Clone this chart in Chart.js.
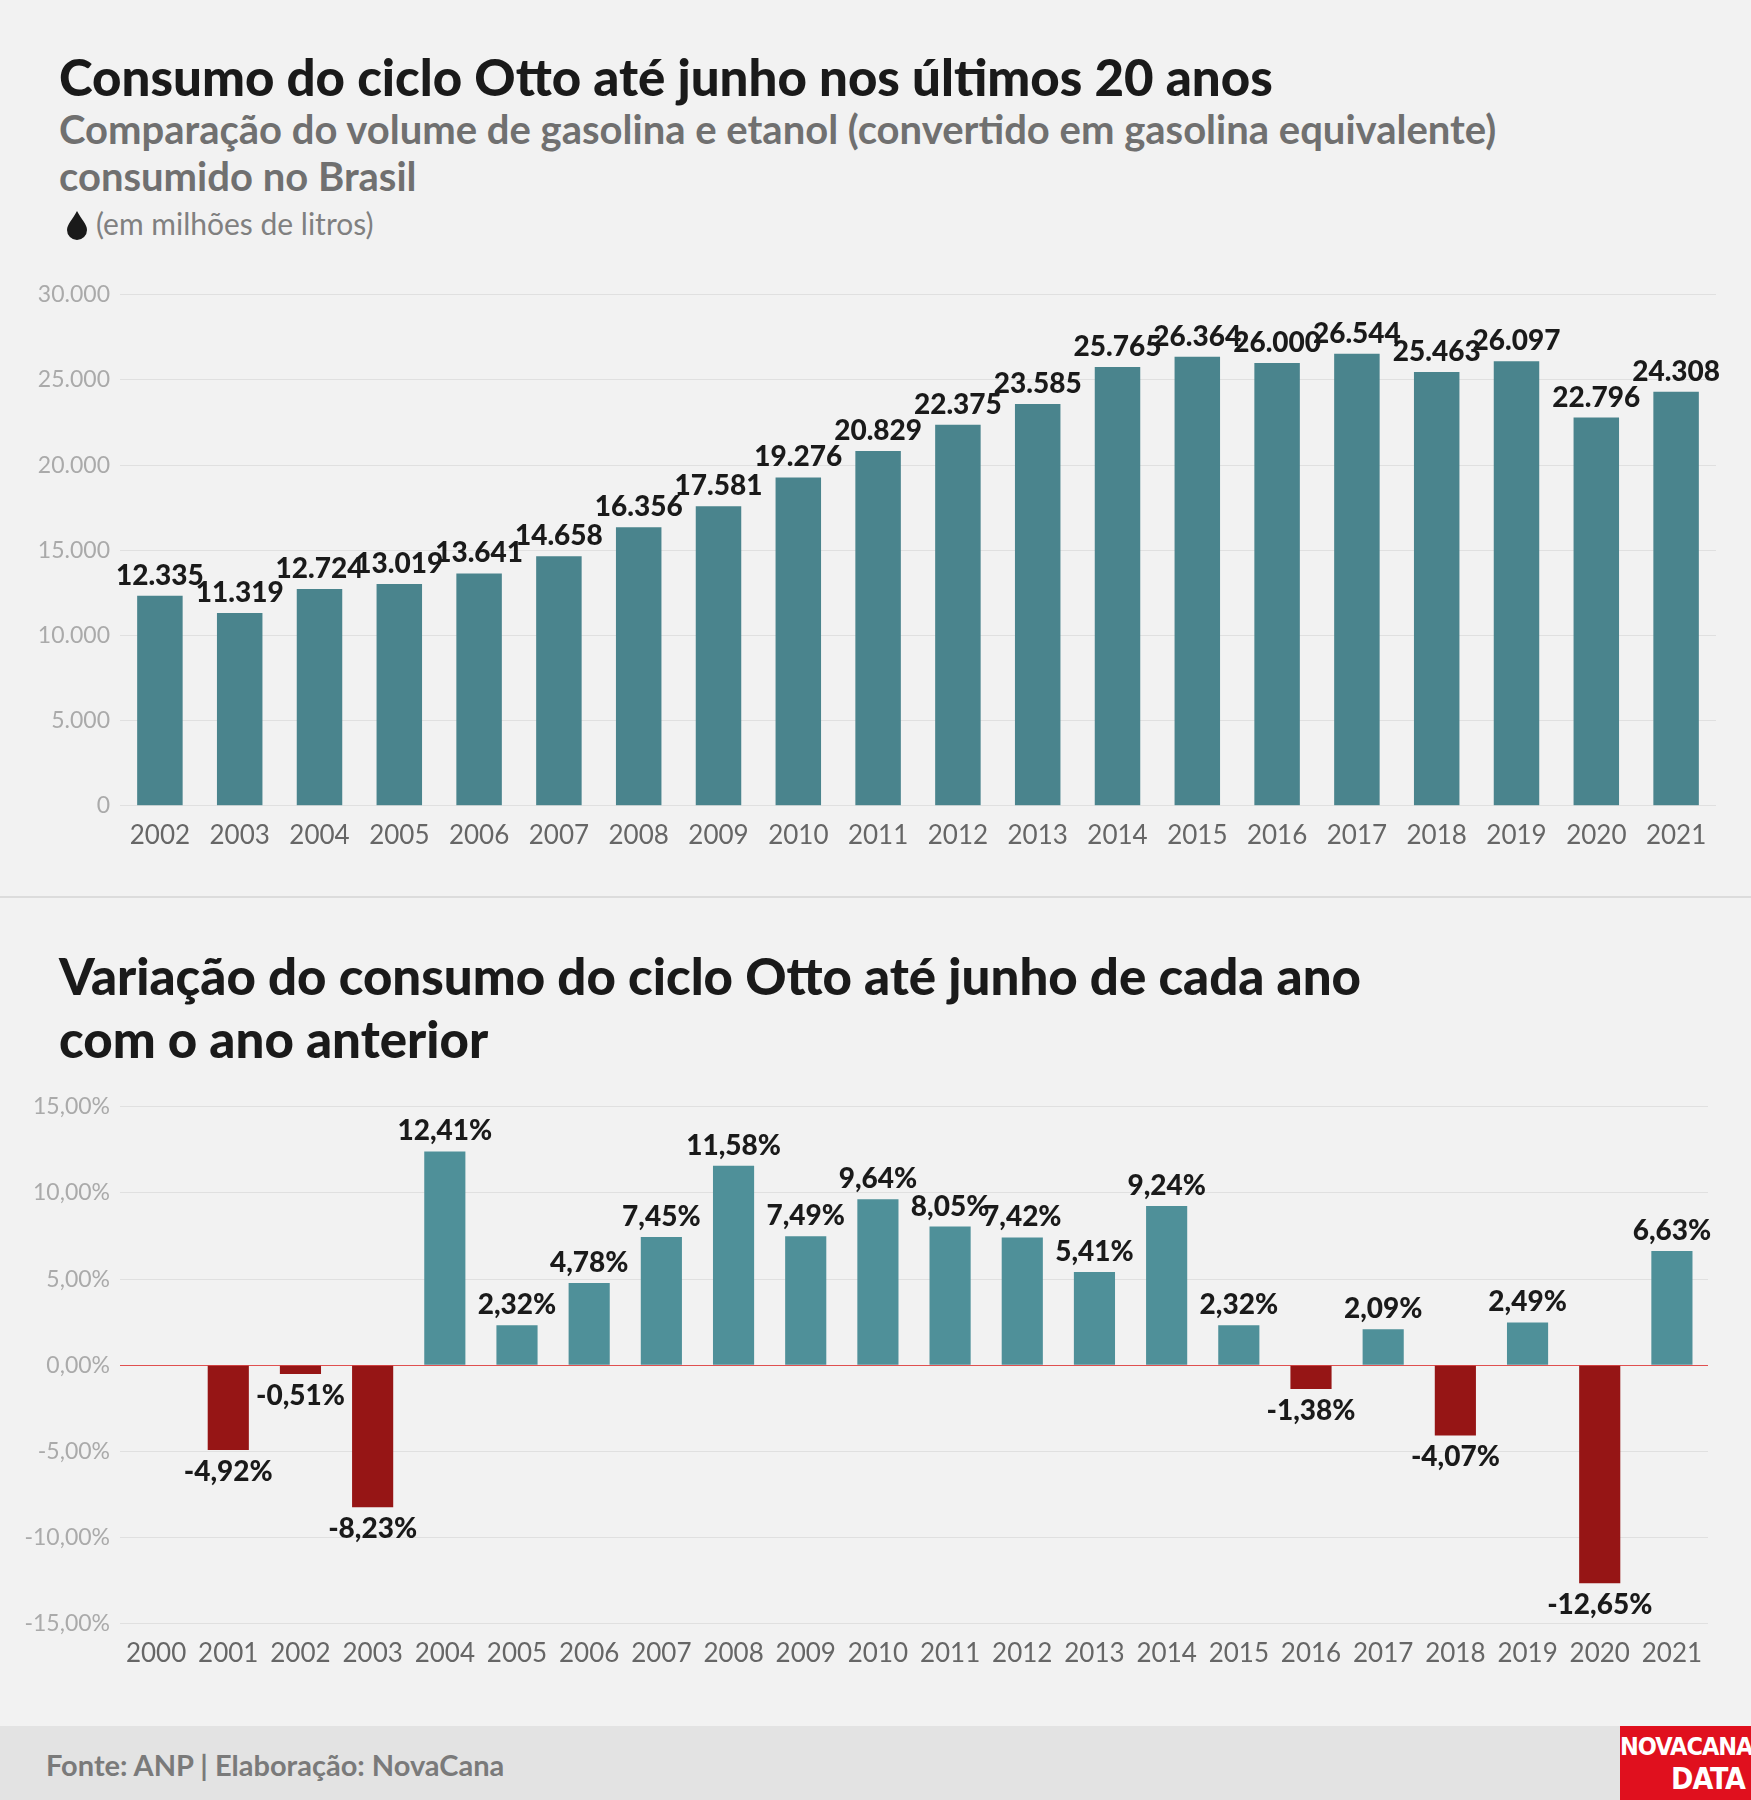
<!DOCTYPE html>
<html><head><meta charset="utf-8">
<script src="https://cdn.jsdelivr.net/npm/chart.js@4"></script>
<style>
body{margin:0;background:#f2f2f2;font-family:Lato,sans-serif;}
#page{position:relative;width:1751px;height:1800px;overflow:hidden;background:#f2f2f2}
.t{position:absolute;left:59px;font-weight:900;color:#1a1a1a;white-space:nowrap}
.box{position:absolute}
</style></head><body>
<div id="page">
  <div class="t" style="top:46px;font-size:51px">Consumo do ciclo Otto até junho nos últimos 20 anos</div>
  <div class="t" style="top:106px;font-size:40px;font-weight:700;color:#707070;line-height:47px">Comparação do volume de gasolina e etanol (convertido em gasolina equivalente)<br>consumido no Brasil</div>
  <div class="t" style="left:66px;top:205px;font-size:30px;font-weight:400;color:#808080">
    <svg width="22" height="30" viewBox="0 0 22 30" style="vertical-align:-5px;margin-right:8px"><path d="M11 1 C15 9 21 14 21 20 A10 10 0 0 1 1 20 C1 14 7 9 11 1Z" fill="#1a1a1a"/></svg>(em milhões de litros)</div>
  <div class="box" style="left:0;top:271px;width:1742px;height:586px"><canvas id="c1"></canvas></div>
  <div style="position:absolute;left:0;top:896px;width:1751px;height:2px;background:#dcdcdc"></div>
  <div class="t" style="top:944px;font-size:51px;line-height:63px">Variação do consumo do ciclo Otto até junho de cada ano<br>com o ano anterior</div>
  <div class="box" style="left:0;top:1083px;width:1734px;height:592px"><canvas id="c2"></canvas></div>
  <div style="position:absolute;left:0;top:1726px;width:1751px;height:74px;background:#e3e3e3"></div>
  <div class="t" style="left:46px;top:1747px;font-size:29px;font-weight:700;color:#7a7a7a">Fonte: ANP | Elaboração: NovaCana</div>
  <div style="position:absolute;left:1620px;top:1726px;width:131px;height:74px;background:#e0101e;color:#fff;font-weight:900;font-family:'Liberation Sans Narrow','DejaVu Sans Condensed',sans-serif;text-align:right;line-height:32px;font-size:25px;padding:5px 6px 0 0;box-sizing:border-box;letter-spacing:-1px">NOVACANA<br><span style="font-size:30px">DATA</span></div>
</div>
<script>
const years1 = ['2002','2003','2004','2005','2006','2007','2008','2009','2010','2011','2012','2013','2014','2015','2016','2017','2018','2019','2020','2021'];
const consumo = [12335,11319,12724,13019,13641,14658,16356,17581,19276,20829,22375,23585,25765,26364,26000,26544,25463,26097,22796,24308];
const years2 = ['2000','2001','2002','2003','2004','2005','2006','2007','2008','2009','2010','2011','2012','2013','2014','2015','2016','2017','2018','2019','2020','2021'];
const variacao = [null,-4.92,-0.51,-8.23,12.41,2.32,4.78,7.45,11.58,7.49,9.64,8.05,7.42,5.41,9.24,2.32,-1.38,2.09,-4.07,2.49,-12.65,6.63];

const fmtInt = v => v.toLocaleString('pt-BR');
const fmtPct = v => v.toFixed(2).replace('.', ',') + '%';

// rótulos em cima/baixo das barras
const barLabels = {
  id:'barLabels',
  afterDatasetsDraw(chart, args, opts){
    const ctx = chart.ctx;
    const ds = chart.data.datasets[0];
    chart.getDatasetMeta(0).data.forEach((bar,i)=>{
      const v = ds.data[i];
      if(v === null) return;
      ctx.save();
      ctx.font = '900 28px Lato';
      ctx.fillStyle = '#1a1a1a';
      ctx.textAlign = 'center';
      if(v >= 0){ ctx.textBaseline='bottom'; ctx.fillText(opts.fmt(v), bar.x, bar.y-6); }
      else { ctx.textBaseline='top'; ctx.fillText(opts.fmt(v), bar.x, bar.y+8); }
      ctx.restore();
    });
  }
};

const tickFont = {family:'Lato', size:26};
const yFit = s => { s.width = 120; };

new Chart(document.getElementById('c1'), {
  type:'bar',
  data:{labels:years1, datasets:[{data:consumo, backgroundColor:'#4a848d', barPercentage:0.57, categoryPercentage:1}]},
  options:{
    responsive:true, maintainAspectRatio:false, animation:false,
    layout:{padding:{top:16, right:26}},
    plugins:{legend:{display:false}, tooltip:{enabled:false}, barLabels:{fmt:fmtInt}},
    scales:{
      x:{grid:{display:false}, border:{display:false}, ticks:{color:'#666', font:tickFont, padding:6}},
      y:{min:0, max:30000, afterFit:yFit, ticks:{stepSize:5000, color:'#aaa', font:{family:'Lato',size:23}, padding:10, callback:fmtInt},
         grid:{color:'#e0e0e0', drawTicks:false}, border:{display:false}}
    }
  },
  plugins:[barLabels]
});

new Chart(document.getElementById('c2'), {
  type:'bar',
  data:{labels:years2, datasets:[{data:variacao, backgroundColor:variacao.map(v=>v<0?'#961515':'#4f9099'), barPercentage:0.57, categoryPercentage:1}]},
  options:{
    responsive:true, maintainAspectRatio:false, animation:false,
    layout:{padding:{top:16, right:26}},
    plugins:{legend:{display:false}, tooltip:{enabled:false}, barLabels:{fmt:fmtPct}},
    scales:{
      x:{grid:{display:false}, border:{display:false}, ticks:{color:'#666', font:tickFont, padding:6}},
      y:{min:-15, max:15, afterFit:yFit, ticks:{stepSize:5, color:'#aaa', font:{family:'Lato',size:23}, padding:10, callback:fmtPct},
         grid:{color:c=>c.tick.value===0?'#e05050':'#e0e0e0', drawTicks:false}, border:{display:false}}
    }
  },
  plugins:[barLabels]
});
</script>
</body></html>
